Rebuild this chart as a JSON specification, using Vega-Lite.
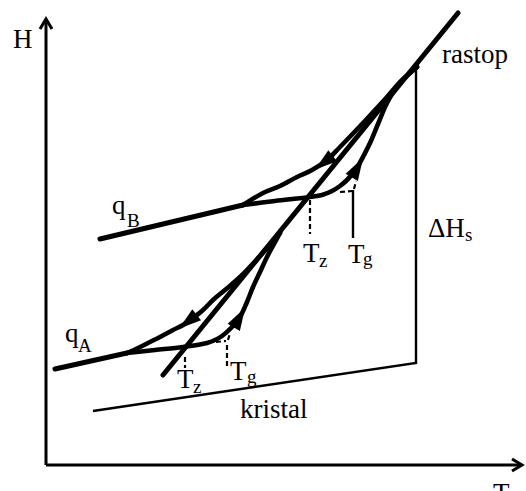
{
  "$schema": "https://vega.github.io/schema/vega-lite/v6.json",
  "width": 526,
  "height": 491,
  "padding": 0,
  "autosize": {"type": "none"},
  "background": "white",
  "config": {"view": {"stroke": null}},
  "datasets": {
    "paths": [
      {"path": "yaxis", "i": 0, "T": 0, "H": 0}, {"path": "yaxis", "i": 1, "T": 0, "H": 446},
      {"path": "arrowY", "i": 0, "T": -6, "H": 436}, {"path": "arrowY", "i": 1, "T": 0, "H": 446}, {"path": "arrowY", "i": 2, "T": 6, "H": 436},
      {"path": "xaxis", "i": 0, "T": 0, "H": 0}, {"path": "xaxis", "i": 1, "T": 476, "H": 0},
      {"path": "arrowX", "i": 0, "T": 466, "H": 6}, {"path": "arrowX", "i": 1, "T": 476, "H": 0}, {"path": "arrowX", "i": 2, "T": 466, "H": -6},

      {"path": "liquid", "i": 0, "T": 412, "H": 452}, {"path": "liquid", "i": 1, "T": 117, "H": 90},
      {"path": "glassB", "i": 0, "T": 54, "H": 226}, {"path": "glassB", "i": 1, "T": 197, "H": 260},
      {"path": "glassA", "i": 0, "T": 9, "H": 96}, {"path": "glassA", "i": 1, "T": 81, "H": 112},

      {"path": "heatB", "i": 0, "T": 197, "H": 260}, {"path": "heatB", "i": 1, "T": 229, "H": 264},
      {"path": "heatB", "i": 2, "T": 264, "H": 268}, {"path": "heatB", "i": 3, "T": 276, "H": 270},
      {"path": "heatB", "i": 4, "T": 286, "H": 274}, {"path": "heatB", "i": 5, "T": 294, "H": 279},
      {"path": "heatB", "i": 6, "T": 301, "H": 285}, {"path": "heatB", "i": 7, "T": 307, "H": 292},
      {"path": "heatB", "i": 8, "T": 312, "H": 299}, {"path": "heatB", "i": 9, "T": 318, "H": 310},
      {"path": "heatB", "i": 10, "T": 324, "H": 322}, {"path": "heatB", "i": 11, "T": 332, "H": 341},
      {"path": "heatB", "i": 12, "T": 341, "H": 362}, {"path": "heatB", "i": 13, "T": 352, "H": 380},
      {"path": "heatB", "i": 14, "T": 364, "H": 392}, {"path": "heatB", "i": 15, "T": 371, "H": 398},

      {"path": "coolB", "i": 0, "T": 371, "H": 398}, {"path": "coolB", "i": 1, "T": 354, "H": 383},
      {"path": "coolB", "i": 2, "T": 341, "H": 368}, {"path": "coolB", "i": 3, "T": 329, "H": 355},
      {"path": "coolB", "i": 4, "T": 317, "H": 342}, {"path": "coolB", "i": 5, "T": 294, "H": 318},
      {"path": "coolB", "i": 6, "T": 281, "H": 305}, {"path": "coolB", "i": 7, "T": 266, "H": 295},
      {"path": "coolB", "i": 8, "T": 251, "H": 288}, {"path": "coolB", "i": 9, "T": 234, "H": 279},
      {"path": "coolB", "i": 10, "T": 217, "H": 272}, {"path": "coolB", "i": 11, "T": 197, "H": 260},

      {"path": "heatA", "i": 0, "T": 81, "H": 112}, {"path": "heatA", "i": 1, "T": 109, "H": 115},
      {"path": "heatA", "i": 2, "T": 137, "H": 118}, {"path": "heatA", "i": 3, "T": 161, "H": 122},
      {"path": "heatA", "i": 4, "T": 169, "H": 125}, {"path": "heatA", "i": 5, "T": 176, "H": 129},
      {"path": "heatA", "i": 6, "T": 185, "H": 137}, {"path": "heatA", "i": 7, "T": 194, "H": 148},
      {"path": "heatA", "i": 8, "T": 201, "H": 163}, {"path": "heatA", "i": 9, "T": 207, "H": 178},
      {"path": "heatA", "i": 10, "T": 214, "H": 193}, {"path": "heatA", "i": 11, "T": 221, "H": 208},
      {"path": "heatA", "i": 12, "T": 228, "H": 221}, {"path": "heatA", "i": 13, "T": 234, "H": 232},

      {"path": "coolA", "i": 0, "T": 234, "H": 232}, {"path": "coolA", "i": 1, "T": 214, "H": 209},
      {"path": "coolA", "i": 2, "T": 194, "H": 188}, {"path": "coolA", "i": 3, "T": 179, "H": 175},
      {"path": "coolA", "i": 4, "T": 167, "H": 165}, {"path": "coolA", "i": 5, "T": 157, "H": 155},
      {"path": "coolA", "i": 6, "T": 147, "H": 147}, {"path": "coolA", "i": 7, "T": 137, "H": 140},
      {"path": "coolA", "i": 8, "T": 127, "H": 135}, {"path": "coolA", "i": 9, "T": 114, "H": 128},
      {"path": "coolA", "i": 10, "T": 104, "H": 123}, {"path": "coolA", "i": 11, "T": 92, "H": 117},
      {"path": "coolA", "i": 12, "T": 81, "H": 112},

      {"path": "kristal", "i": 0, "T": 47, "H": 54}, {"path": "kristal", "i": 1, "T": 370, "H": 102}, {"path": "kristal", "i": 2, "T": 370, "H": 400},
      {"path": "TgB", "i": 0, "T": 307, "H": 275}, {"path": "TgB", "i": 1, "T": 307, "H": 227},

      {"path": "dashB", "i": 0, "T": 294, "H": 273}, {"path": "dashB", "i": 1, "T": 306, "H": 274},
      {"path": "tickB", "i": 0, "T": 308, "H": 276}, {"path": "tickB", "i": 1, "T": 310, "H": 284},
      {"path": "TzB", "i": 0, "T": 264, "H": 265}, {"path": "TzB", "i": 1, "T": 264, "H": 231},
      {"path": "dashA", "i": 0, "T": 170, "H": 123}, {"path": "dashA", "i": 1, "T": 180, "H": 124},
      {"path": "tickA", "i": 0, "T": 182, "H": 125}, {"path": "tickA", "i": 1, "T": 184, "H": 132},
      {"path": "TzA", "i": 0, "T": 139, "H": 108}, {"path": "TzA", "i": 1, "T": 139, "H": 97},
      {"path": "TgA", "i": 0, "T": 181, "H": 120}, {"path": "TgA", "i": 1, "T": 181, "H": 97}
    ],
    "arrows": [
      {"dir": "cool", "T": 280, "H": 304},
      {"dir": "heat", "T": 310, "H": 295},
      {"dir": "cool", "T": 144, "H": 145},
      {"dir": "heat", "T": 192, "H": 145}
    ],
    "labels": [
      {"kind": "main", "text": "H", "T": -33, "H": 417},
      {"kind": "main", "text": "T", "T": 447, "H": -37},
      {"kind": "main", "text": "rastop", "T": 396, "H": 402},
      {"kind": "main", "text": "q", "T": 66, "H": 251},
      {"kind": "main", "text": "q", "T": 19, "H": 123},
      {"kind": "main", "text": "T", "T": 257, "H": 203},
      {"kind": "main", "text": "T", "T": 302, "H": 202},
      {"kind": "main", "text": "T", "T": 131, "H": 77},
      {"kind": "main", "text": "T", "T": 184, "H": 85},
      {"kind": "main", "text": "ΔH", "T": 382, "H": 228},
      {"kind": "main", "text": "kristal", "T": 194, "H": 47},
      {"kind": "sub", "text": "B", "T": 81, "H": 238},
      {"kind": "sub", "text": "A", "T": 32, "H": 113},
      {"kind": "sub", "text": "z", "T": 273, "H": 198},
      {"kind": "sub", "text": "g", "T": 317, "H": 200},
      {"kind": "sub", "text": "z", "T": 147, "H": 72},
      {"kind": "sub", "text": "g", "T": 201, "H": 82},
      {"kind": "sub", "text": "s", "T": 419, "H": 224}
    ]
  },
  "encoding": {
    "x": {"field": "T", "type": "quantitative", "scale": {"domain": [-46, 480], "zero": false, "nice": false}, "axis": null},
    "y": {"field": "H", "type": "quantitative", "scale": {"domain": [-26, 465], "zero": false, "nice": false}, "axis": null}
  },
  "layer": [
    {
      "data": {"name": "paths"},
      "transform": [{"filter": "indexof(['yaxis','xaxis','arrowY','arrowX'], datum.path) >= 0"}],
      "mark": {"type": "line", "color": "black", "strokeWidth": 3, "strokeJoin": "miter"},
      "encoding": {"detail": {"field": "path"}, "order": {"field": "i"}}
    },
    {
      "data": {"name": "paths"},
      "transform": [{"filter": "indexof(['kristal','TgB'], datum.path) >= 0"}],
      "mark": {"type": "line", "color": "black", "strokeWidth": 2.4},
      "encoding": {"detail": {"field": "path"}, "order": {"field": "i"}}
    },
    {
      "data": {"name": "paths"},
      "transform": [{"filter": "indexof(['dashB','tickB','TzB','dashA','tickA','TzA','TgA'], datum.path) >= 0"}],
      "mark": {"type": "line", "color": "black", "strokeWidth": 2.2, "strokeDash": [5, 3]},
      "encoding": {"detail": {"field": "path"}, "order": {"field": "i"}}
    },
    {
      "data": {"name": "paths"},
      "transform": [{"filter": "indexof(['liquid','glassB','glassA'], datum.path) >= 0"}],
      "mark": {"type": "line", "color": "black", "strokeWidth": 5, "strokeCap": "round"},
      "encoding": {"detail": {"field": "path"}, "order": {"field": "i"}}
    },
    {
      "data": {"name": "paths"},
      "transform": [{"filter": "indexof(['heatB','coolB','heatA','coolA'], datum.path) >= 0"}],
      "mark": {"type": "line", "color": "black", "strokeWidth": 4.6, "interpolate": "catmull-rom", "strokeCap": "round"},
      "encoding": {"detail": {"field": "path"}, "order": {"field": "i"}}
    },
    {
      "data": {"name": "arrows"},
      "transform": [{"filter": "datum.dir === 'cool'"}],
      "mark": {"type": "point", "filled": true, "color": "black", "opacity": 1, "size": 800, "angle": 232, "shape": "M0,-1L0.5,0.6L-0.5,0.6Z"}
    },
    {
      "data": {"name": "arrows"},
      "transform": [{"filter": "datum.dir === 'heat'"}],
      "mark": {"type": "point", "filled": true, "color": "black", "opacity": 1, "size": 800, "angle": 30, "shape": "M0,-1L0.5,0.6L-0.5,0.6Z"}
    },
    {
      "data": {"name": "labels"},
      "transform": [{"filter": "datum.kind === 'main'"}],
      "mark": {"type": "text", "font": "Liberation Serif", "fontSize": 27, "align": "left", "baseline": "alphabetic", "color": "black"},
      "encoding": {"text": {"field": "text"}}
    },
    {
      "data": {"name": "labels"},
      "transform": [{"filter": "datum.kind === 'sub'"}],
      "mark": {"type": "text", "font": "Liberation Serif", "fontSize": 19, "align": "left", "baseline": "alphabetic", "color": "black"},
      "encoding": {"text": {"field": "text"}}
    }
  ]
}
